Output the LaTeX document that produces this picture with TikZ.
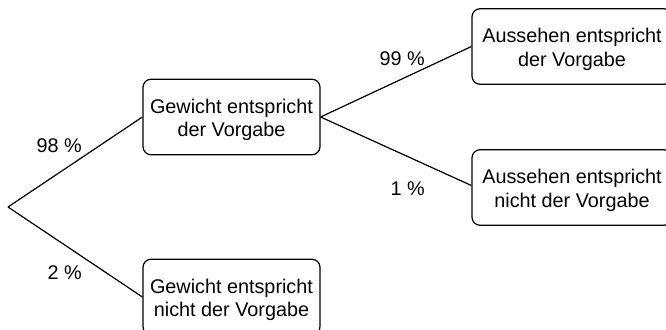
\documentclass[tikz,border=0pt]{standalone}
\usepackage{fontspec}
\setmainfont{Liberation Sans}
% strut that lowers the two-line box texts a little inside their boxes
\newcommand\boxstrut{\rule{0pt}{20pt}}
\begin{document}
\begin{tikzpicture}[x=1pt,y=-1pt,
  every node/.style={font=\fontsize{19.8}{23.5}\selectfont},
  outcome/.style={draw, line width=1.2pt, rounded corners=8pt, align=center,
    minimum height=75.5pt, inner sep=0pt, fill=white},
  branch/.style={line width=1.2pt},
  prob/.style={anchor=base east, inner sep=0pt}]
\useasboundingbox (0,0) rectangle (666,329);
\clip (0,0) rectangle (666,329);

\coordinate (root) at (8,207);

\node[outcome, minimum width=177pt] (g1) at (231.5,117) {\boxstrut Gewicht entspricht\\der Vorgabe};
\node[outcome, minimum width=177pt] (g2) at (231.5,297) {\boxstrut Gewicht entspricht\\nicht der Vorgabe};
\node[outcome, minimum width=200pt] (a1) at (572,46.5) {\boxstrut Aussehen entspricht\\der Vorgabe};
\node[outcome, minimum width=200pt] (a2) at (572,187.5) {\boxstrut Aussehen entspricht\\nicht der Vorgabe};

\draw[branch] (root) -- (g1.west);
\draw[branch] (root) -- (g2.west);
\draw[branch] (g1.east) -- (a1.west);
\draw[branch] (g1.east) -- ([yshift=2pt]a2.west);

\node[prob] (p98) at (82,152) {98 \%};
\node[prob] (p2) at (82,279) {2 \%};
\node[prob] (p99) at (425,65) {99 \%};
\node[prob] (p1) at (425,195) {1 \%};
\end{tikzpicture}
\end{document}
